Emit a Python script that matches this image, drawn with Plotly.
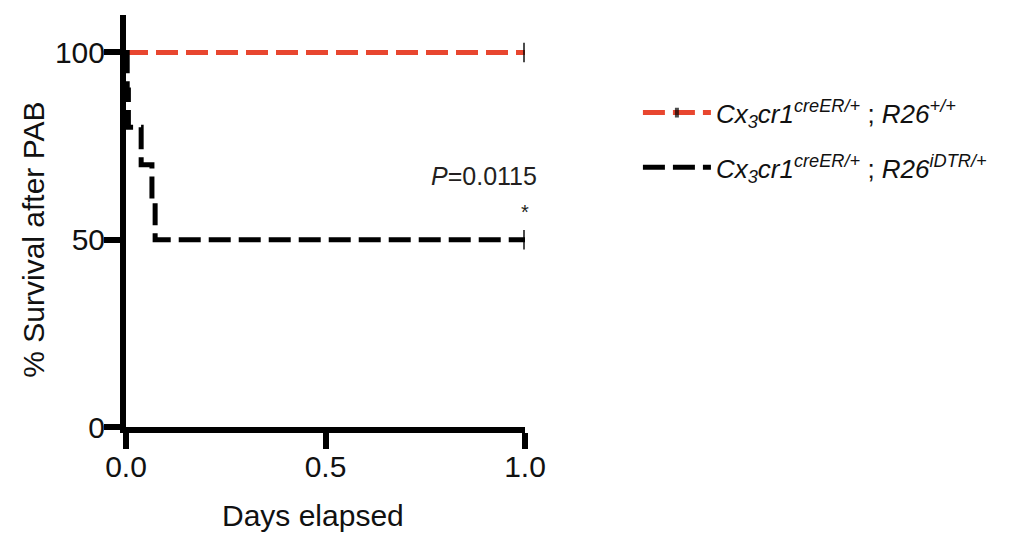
import plotly.graph_objects as go

# Kaplan-Meier survival data (days after PAB, % surviving)
ctrl_days = [0.0, 1.0]
ctrl_surv = [100, 100]
ctrl_censored = [False, True]

dtr_days = [0.0, 0.003, 0.006, 0.038, 0.065, 0.073, 1.0]
dtr_surv = [100, 90, 80, 70, 60, 50, 50]
dtr_censored = [False, False, False, False, False, False, True]

ctrl_name = "<i>Cx<sub>3</sub>cr1<sup>creER/+</sup></i> ; <i>R26<sup>+/+</sup></i>"
dtr_name = "<i>Cx<sub>3</sub>cr1<sup>creER/+</sup></i> ; <i>R26<sup>iDTR/+</sup></i>"

x_ticks = [0.0, 0.5, 1.0]
x_ticklabels = ["0.0", "0.5", "1.0"]
y_ticks = [0, 50, 100]

p_value_text = "<i>P</i>=0.0115"

RED = "#E8462F"
BLACK = "#000000"
TEXT = "#111111"
FONT = "Liberation Sans, Arial, sans-serif"


def km_trace(days, surv, censored, color, name, group):
    return go.Scatter(
        x=days, y=surv, name=name, legendgroup=group,
        mode="lines+markers", line=dict(color=color, width=5, dash="22px,8px", shape="hv"),
        marker=dict(symbol="line-ns-open", color=BLACK,
                    size=[14 if c else 0 for c in censored],
                    line=dict(color=BLACK, width=4)),
    )


fig = go.Figure()
fig.add_trace(km_trace(ctrl_days, ctrl_surv, ctrl_censored, RED, ctrl_name, "a"))
fig.add_trace(km_trace(dtr_days, dtr_surv, dtr_censored, BLACK, dtr_name, "b"))

axis_common = dict(
    showline=True, linewidth=6, linecolor=BLACK, showgrid=False, zeroline=False,
    ticks="outside", ticklen=16, tickwidth=6, tickcolor=BLACK,
    tickfont=dict(size=30, color=TEXT, family=FONT),
)

fig.update_layout(
    width=1017, height=537,
    margin=dict(l=126, r=492, t=15, b=110),
    paper_bgcolor="white", plot_bgcolor="white",
    font=dict(family=FONT, size=26, color=TEXT),
    xaxis=dict(range=[0, 1], tickvals=x_ticks, ticktext=x_ticklabels,
               ticklabelstandoff=-8, **axis_common),
    yaxis=dict(range=[0, 110], tickvals=y_ticks, ticklabelstandoff=-7, **axis_common),
    legend=dict(x=1.283, y=0.82, xanchor="left", yanchor="top",
                font=dict(size=26, family=FONT, color=TEXT),
                tracegroupgap=18, itemwidth=68, bgcolor="rgba(0,0,0,0)"),
    annotations=[
        dict(x=1.0, y=67, xref="x", yref="y", xshift=14, text=p_value_text, showarrow=False,
             xanchor="right", yanchor="middle", font=dict(size=25, color="#231F20")),
        dict(x=1.0, y=57.5, xref="x", yref="y", xshift=6, text="*", showarrow=False,
             xanchor="right", yanchor="middle", font=dict(size=20, color="#231F20")),
        dict(x=0, y=50, xref="paper", yref="y", xshift=-92, text="% Survival after PAB",
             textangle=-90, showarrow=False, xanchor="center", yanchor="middle",
             font=dict(size=30, color=TEXT)),
        dict(x=(313 - 126) / 399, y=0, xref="paper", yref="paper", yshift=-88,
             text="Days elapsed", showarrow=False, xanchor="center", yanchor="middle",
             font=dict(size=30, color=TEXT)),
    ],
)

fig.write_html("out.html")
